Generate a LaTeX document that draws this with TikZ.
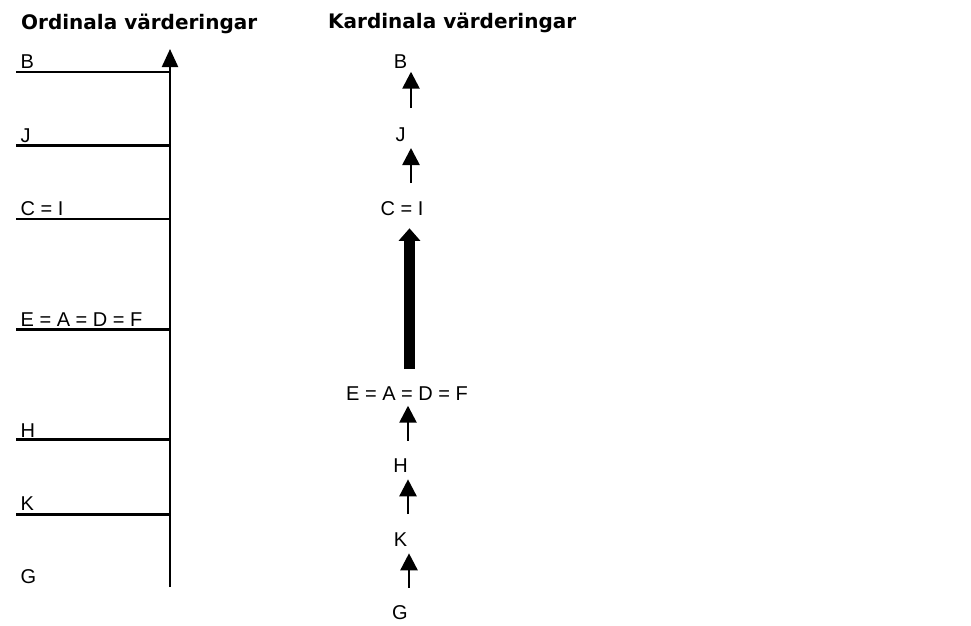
\documentclass[tikz,border=0pt]{standalone}
\usepackage{fontspec}
\setmainfont{Liberation Sans}
\newfontfamily\titlefont{DejaVu Sans}
\usetikzlibrary{arrows.meta}
\begin{document}
\begin{tikzpicture}[x=1pt,y=-1pt,
  title/.style={font=\titlefont\bfseries\fontsize{20}{24}\selectfont,inner sep=0pt,anchor=base west},
  lbl/.style={font=\fontsize{20}{24}\selectfont,inner sep=0pt},
  llbl/.style={lbl,anchor=base west},
  rlbl/.style={lbl,anchor=base},
  rung/.style={line width=2.2pt},
  axis/.style={line width=2.2pt,-{Triangle[width=16pt,length=18pt]}},
  smallarr/.style={line width=2.6pt,-{Triangle[width=17pt,length=17pt]}},
  bigarr/.style={line width=10.3pt,-{Triangle[width=21pt,length=12.5pt]}}]
\useasboundingbox (0,0) rectangle (971,625);

% titles
\node[title] (t1) at (21,29) {Ordinala värderingar};
\node[title] (t2) at (328,28.5) {Kardinala värderingar};

% left: ordinal axis
\coordinate (axB) at (170,587);
\coordinate (axT) at (170,49);
\draw[axis] (axB) -- (axT);

\node[llbl] (lB) at (20.5,68) {B};
\node[llbl] (lJ) at (20.5,142) {J};
\node[llbl] (lC) at (20.5,215) {C = I};
\node[llbl] (lE) at (20.5,326) {E = A = D = F};
\node[llbl] (lH) at (20.5,437) {H};
\node[llbl] (lK) at (20.5,510) {K};
\node[llbl] (lG) at (20.5,583) {G};

\foreach \n/\y in {B/72,J/145.5,C/219,E/329.5,H/439.5,K/514.5}{
  \coordinate (s\n) at (16,\y);
  \coordinate (e\n) at (170,\y);
  \draw[rung] (s\n) -- (e\n);
}

% right: cardinal scale
\node[rlbl] (rB) at (400.5,68.3) {B};
\node[rlbl] (rJ) at (400.5,141.7) {J};
\node[rlbl] (rC) at (402,215) {C = I};
\node[rlbl] (rE) at (407,400) {E = A = D = F};
\node[rlbl] (rH) at (400.5,472.7) {H};
\node[rlbl] (rK) at (400.5,546.7) {K};
\node[rlbl] (rG) at (400,619) {G};

\coordinate (aJb) at (411,108);   \coordinate (aJt) at (411,71.7);
\coordinate (aCb) at (411,183);   \coordinate (aCt) at (411,148);
\coordinate (aEb) at (409.5,369); \coordinate (aEt) at (409.5,228.3);
\coordinate (aHb) at (408,440.7); \coordinate (aHt) at (408,405.7);
\coordinate (aKb) at (408,514);   \coordinate (aKt) at (408,479.3);
\coordinate (aGb) at (409,587.7); \coordinate (aGt) at (409,553.3);

\draw[smallarr] (aJb) -- (aJt);
\draw[smallarr] (aCb) -- (aCt);
\draw[bigarr]   (aEb) -- (aEt);
\draw[smallarr] (aHb) -- (aHt);
\draw[smallarr] (aKb) -- (aKt);
\draw[smallarr] (aGb) -- (aGt);
\end{tikzpicture}
\end{document}
